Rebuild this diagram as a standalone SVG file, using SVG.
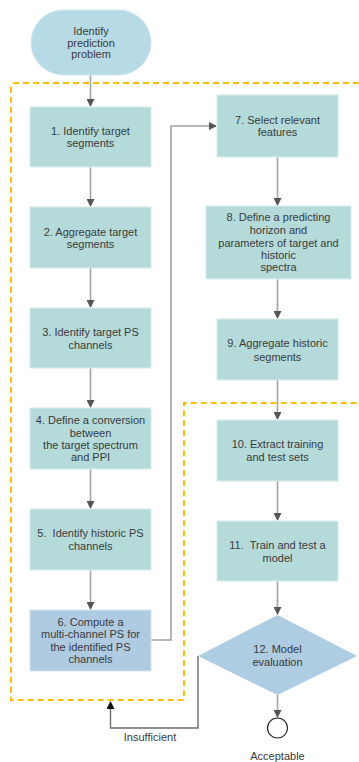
<svg xmlns="http://www.w3.org/2000/svg" width="359" height="762" viewBox="0 0 359 762">
  <style>
    text { font-family: "Liberation Sans", Arial, sans-serif; font-size: 11px; fill: #3a3a3a; text-anchor: middle; white-space: pre; }
    .step { fill: #b5dada; stroke: #d6ecec; stroke-width: 1; }
    .blue { fill: #afcbe1; stroke: #d3e3ef; stroke-width: 1; }
    .wire { fill: none; stroke: #a3a3a3; stroke-width: 1.6; }
    .back { fill: none; stroke: #6e6e6e; stroke-width: 1.4; }
    .zone { fill: none; stroke: #ffbf00; stroke-width: 2; stroke-dasharray: 6 4; }
  </style>
  <defs>
    <marker id="arr" markerWidth="8" markerHeight="8" refX="7" refY="4" orient="auto" markerUnits="userSpaceOnUse">
      <path d="M0,0 L8,4 L0,8 Z" fill="#555555"/>
    </marker>
    <marker id="arrDark" markerWidth="8" markerHeight="8" refX="7" refY="4" orient="auto" markerUnits="userSpaceOnUse">
      <path d="M0,0 L8,4 L0,8 Z" fill="#111111"/>
    </marker>
  </defs>
  <rect width="359" height="762" fill="#ffffff"/>

  <g id="connectors">
    <path class="wire" d="M90.5,75 V106" marker-end="url(#arr)"/>
    <path class="wire" d="M90.5,167 V206" marker-end="url(#arr)"/>
    <path class="wire" d="M90.5,268 V307" marker-end="url(#arr)"/>
    <path class="wire" d="M90.5,368 V407" marker-end="url(#arr)"/>
    <path class="wire" d="M90.5,469 V508" marker-end="url(#arr)"/>
    <path class="wire" d="M90.5,570 V609" marker-end="url(#arr)"/>
    <path class="wire" d="M151,640 H171 V126 H216" marker-end="url(#arr)"/>
    <path class="wire" d="M277.5,157 V205" marker-end="url(#arr)"/>
    <path class="wire" d="M277.5,279 V318" marker-end="url(#arr)"/>
    <path class="wire" d="M277.5,380 V419" marker-end="url(#arr)"/>
    <path class="wire" d="M277.5,481 V520" marker-end="url(#arr)"/>
    <path class="wire" d="M277.5,581 V614" marker-end="url(#arr)"/>
    <path class="wire" d="M277.5,695 V717" marker-end="url(#arr)"/>
    <path class="back" d="M198,656 V728 H110.5 V702" marker-end="url(#arrDark)"/>
    <text x="150" y="741">Insufficient</text>
  </g>

  <!-- dashed boundary around the repeated steps -->
  <path class="zone" d="M359,83 H15 Q11,83 11,87 V700 H184 V403 H359"/>

  <g id="start">
    <rect x="31" y="10" width="120" height="65" rx="32.5" fill="#b6dbe6" stroke="#cfe6ee"/>
    <text x="91" y="35">Identify</text>
    <text x="91" y="47">prediction</text>
    <text x="91" y="58">problem</text>
  </g>
  <g id="step1">
    <rect class="step" x="30" y="107" width="121" height="60"/>
    <text x="90.5" y="135">1. Identify target</text>
    <text x="90.5" y="147">segments</text>
  </g>
  <g id="step2">
    <rect class="step" x="30" y="207" width="121" height="61"/>
    <text x="90.5" y="236">2. Aggregate target</text>
    <text x="90.5" y="248">segments</text>
  </g>
  <g id="step3">
    <rect class="step" x="30" y="308" width="121" height="60"/>
    <text x="90.5" y="336">3. Identify target PS</text>
    <text x="90.5" y="349">channels</text>
  </g>
  <g id="step4">
    <rect class="step" x="30" y="408" width="121" height="61"/>
    <text x="90.5" y="424">4. Define a conversion</text>
    <text x="90.5" y="437">between</text>
    <text x="90.5" y="449">the target spectrum</text>
    <text x="90.5" y="461">and PPI</text>
  </g>
  <g id="step5">
    <rect class="step" x="30" y="509" width="121" height="61"/>
    <text x="90.5" y="537">5.  Identify historic PS</text>
    <text x="90.5" y="550">channels</text>
  </g>
  <g id="step6">
    <rect class="blue" x="30" y="610" width="121" height="61"/>
    <text x="90.5" y="626">6. Compute a</text>
    <text x="90.5" y="638">multi-channel PS for</text>
    <text x="90.5" y="651">the identified PS</text>
    <text x="90.5" y="663">channels</text>
  </g>
  <g id="step7">
    <rect class="step" x="217" y="95" width="121" height="62"/>
    <text x="277.5" y="124">7. Select relevant</text>
    <text x="277.5" y="136">features</text>
  </g>
  <g id="step8">
    <rect class="step" x="206" y="206" width="145" height="73"/>
    <text x="278.5" y="221">8. Define a predicting</text>
    <text x="278.5" y="234">horizon and</text>
    <text x="278.5" y="247">parameters of target and</text>
    <text x="278.5" y="259">historic</text>
    <text x="278.5" y="271">spectra</text>
  </g>
  <g id="step9">
    <rect class="step" x="217" y="319" width="121" height="61"/>
    <text x="277.5" y="347">9. Aggregate historic</text>
    <text x="277.5" y="361">segments</text>
  </g>
  <g id="step10">
    <rect class="step" x="217" y="420" width="121" height="61"/>
    <text x="277.5" y="448">10. Extract training</text>
    <text x="277.5" y="461">and test sets</text>
  </g>
  <g id="step11">
    <rect class="step" x="217" y="521" width="121" height="60"/>
    <text x="277.5" y="549">11.  Train and test a</text>
    <text x="277.5" y="562">model</text>
  </g>
  <g id="step12">
    <polygon points="277.5,615 357,656 277.5,695 198,656" fill="#aecce2"/>
    <text x="277.5" y="653">12. Model</text>
    <text x="277.5" y="666">evaluation</text>
  </g>
  <g id="end">
    <circle cx="277.5" cy="728" r="10" fill="#ffffff" stroke="#222222" stroke-width="1.2"/>
    <text x="277.5" y="760">Acceptable</text>
  </g>
</svg>
